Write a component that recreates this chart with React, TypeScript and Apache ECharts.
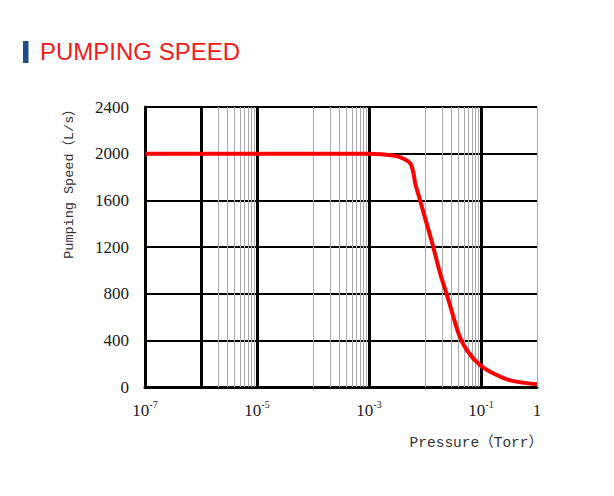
import React, { useEffect, useRef } from "react";
import * as echarts from "echarts";

// Curve data
const pressure = [1e-7, 1e-5, 1e-3, 2.75e-3, 4.15e-3, 5.5e-3, 6.25e-3, 6.7e-3, 7.7e-3, 1.01e-2, 1.33e-2, 1.87e-2, 2.64e-2, 3.98e-2, 5.6e-2, 9.7e-2, 0.168, 0.333, 1];
const speed = [2000, 2000, 2000, 1985, 1957, 1915, 1829, 1743, 1643, 1443, 1243, 972, 743, 458, 315, 186, 115, 57, 23];

// Axis settings
const yTicks = [0, 400, 800, 1200, 1600, 2000, 2400];
const xLabelExps = [-7, -5, -3, -1, 0];
const majorGrid = [1e-6, 1e-5, 1e-3, 1e-1];
const thinGrid = [1e-4, 1e-2, 1];
const minorDecades = [1e-6, 1e-4, 1e-2];
const minorSteps = [2, 3, 4, 5, 6, 7, 8, 9];

const TITLE = "PUMPING SPEED";
const Y_NAME = "Pumping Speed（L/s）";
const X_NAME = "Pressure（Torr）";

export default function App() {
  const ref = useRef<HTMLDivElement>(null);
  useEffect(() => {
    if (!ref.current) return;
    const chart = echarts.init(ref.current, undefined, { renderer: "svg" });
    const gray = { color: "#aaaaaa", width: 1, type: "solid" };
    const black = { color: "#000000", width: 3, type: "solid" };
    const gridLines: any[] = [];
    majorGrid.forEach((v) => gridLines.push({ xAxis: v, lineStyle: black }));
    thinGrid.forEach((v) => gridLines.push({ xAxis: v, lineStyle: gray }));
    minorDecades.forEach((d) =>
      minorSteps.forEach((k) => gridLines.push({ xAxis: d * k, lineStyle: gray }))
    );
    const serif = "'Liberation Serif', 'Times New Roman', serif";
    const mono = "'Liberation Mono', 'Noto Sans CJK SC', monospace";
    chart.setOption({
      animation: false,
      backgroundColor: "#ffffff",
      grid: { left: 145, top: 107, width: 392, height: 280, containLabel: false },
      xAxis: {
        type: "log",
        logBase: 10,
        min: 1e-7,
        max: 1,
        axisLine: { show: true, lineStyle: { color: "#000", width: 3 } },
        axisTick: { show: false },
        splitLine: { show: false },
        axisLabel: {
          margin: 12,
          color: "#1a1a1a",
          formatter: (v: number) => {
            const e = Math.round(Math.log10(v));
            if (!xLabelExps.includes(e)) return "";
            if (e === 0) return "{a|1}";
            return "{a|10}{b|" + e + "}";
          },
          rich: {
            a: { fontFamily: serif, fontSize: 17, color: "#1a1a1a", verticalAlign: "bottom", lineHeight: 20 },
            b: { fontFamily: serif, fontSize: 10, color: "#1a1a1a", verticalAlign: "top", lineHeight: 12 },
          },
        },
      },
      yAxis: {
        type: "value",
        min: yTicks[0],
        max: yTicks[yTicks.length - 1],
        interval: yTicks[1] - yTicks[0],
        axisLine: { show: true, lineStyle: { color: "#000", width: 3 } },
        axisTick: { show: false },
        splitLine: { show: true, lineStyle: { color: "#000", width: 2 } },
        axisLabel: {
          margin: 16,
          color: "#1a1a1a",
          fontFamily: serif,
          fontSize: 17,
          formatter: (v: number) => String(v),
        },
      },
      series: [
        {
          type: "line",
          data: [],
          silent: true,
          markLine: {
            z: 1,
            precision: 12,
            silent: true,
            symbol: ["none", "none"],
            label: { show: false },
            emphasis: { disabled: true },
            data: gridLines,
          },
        },
        {
          type: "line",
          z: 5,
          data: pressure.map((p, i) => [p, speed[i]]),
          showSymbol: false,
          smooth: 0.3,
          lineStyle: { color: "#ff0000", width: 4 },
          itemStyle: { color: "#ff0000" },
          silent: true,
        },
      ],
      graphic: [
        { type: "rect", shape: { x: 23, y: 41, width: 5.5, height: 22 }, style: { fill: "#1d4c8c" } },
        {
          type: "text",
          x: 40,
          y: 51,
          style: { text: TITLE, fill: "#f01c22", font: "24px 'Liberation Sans', Arial, sans-serif", align: "left", verticalAlign: "middle" },
        },
        {
          type: "text",
          x: 69,
          y: 180.5,
          rotation: Math.PI / 2,
          style: { text: Y_NAME, fill: "#333", font: "13.5px " + mono, align: "center", verticalAlign: "middle" },
        },
        {
          type: "text",
          x: 543,
          y: 443,
          style: { text: X_NAME, fill: "#333", font: "14.5px " + mono, align: "right", verticalAlign: "middle" },
        },
      ],
    });
    return () => chart.dispose();
  }, []);
  return <div ref={ref} style={{ position: "absolute", left: 0, top: 0, width: 614, height: 496 }} />;
}
